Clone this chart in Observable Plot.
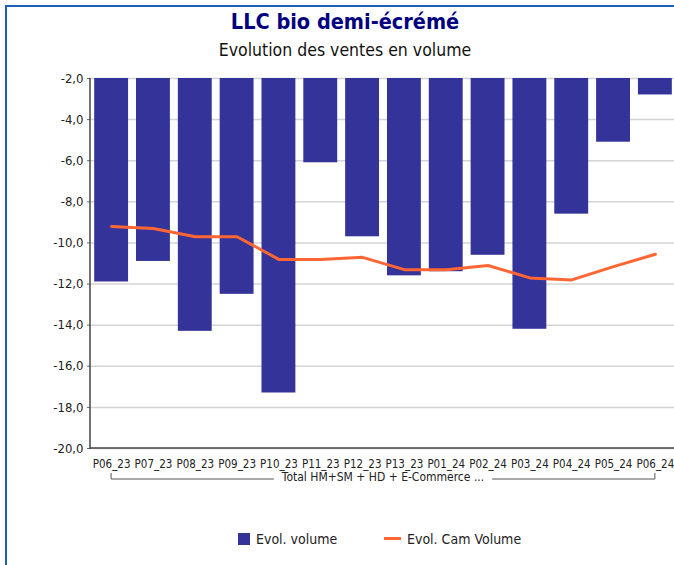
<!DOCTYPE html>
<html>
<head>
<meta charset="utf-8">
<script src="https://cdn.jsdelivr.net/npm/d3@7"></script>
<script src="https://cdn.jsdelivr.net/npm/@observablehq/plot@0.6"></script>
<style>
  html, body { margin: 0; padding: 0; background: #fff; }
  body { width: 674px; height: 565px; position: relative; overflow: hidden; font-family: "DejaVu Sans Condensed", "DejaVu Sans", sans-serif; }
  #frame { position: absolute; left: 5px; top: 5px; width: 700px; height: 600px; border-left: 2px solid #1f5fb4; border-top: 2px solid #1f5fb4; }
  #title { position: absolute; left: 0; width: 690px; top: 9px; text-align: center; font-size: 21.5px; font-weight: bold; color: #000080; }
  #subtitle { position: absolute; left: 0; width: 690px; top: 40px; text-align: center; font-size: 17.5px; color: #111; }
  #chart { position: absolute; left: 0; top: 60px; }
  #legend { position: absolute; top: 531px; left: 0; width: 674px; font-size: 14px; color: #222; }
  .li { position: absolute; top: 0; white-space: nowrap; }
  .sw { display: inline-block; width: 12px; height: 12px; background: #333399; vertical-align: -1px; margin-right: 6px; }
  .ln { display: inline-block; width: 17px; height: 3px; background: #ff6633; vertical-align: 4px; margin-right: 6px; }
</style>
</head>
<body>
<div id="frame"></div>
<div id="title">LLC bio demi-écrémé</div>
<div id="subtitle">Evolution des ventes en volume</div>
<div id="chart"></div>
<div id="legend">
  <span class="li" style="left:238px"><span class="sw"></span>Evol. volume</span>
  <span class="li" style="left:384px"><span class="ln"></span>Evol. Cam Volume</span>
</div>
<script>
const periods = ["P06_23","P07_23","P08_23","P09_23","P10_23","P11_23","P12_23","P13_23","P01_24","P02_24","P03_24","P04_24","P05_24","P06_24"];
const evolVolume = [-11.9, -10.9, -14.3, -12.5, -17.3, -6.1, -9.7, -11.6, -11.4, -10.6, -14.2, -8.6, -5.1, -2.8];
const evolCamVolume = [-9.2, -9.3, -9.7, -9.7, -10.8, -10.8, -10.7, -11.3, -11.3, -11.1, -11.7, -11.8, -11.15, -10.55];
const yTicks = [-20, -18, -16, -14, -12, -10, -8, -6, -4, -2];
const groupLabel = "Total HM+SM + HD + E-Commerce ...";

const data = periods.map((p, i) => ({period: p, vol: evolVolume[i], cam: evolCamVolume[i]}));
const fmt = d => d.toFixed(1).replace(".", ",");

const plot = Plot.plot({
  width: 674,
  height: 430,
  marginTop: 18,
  marginBottom: 42,
  marginLeft: 90,
  marginRight: 0,
  style: {fontFamily: '"DejaVu Sans Condensed", "DejaVu Sans", sans-serif', background: "transparent", overflow: "visible"},
  x: {domain: periods, range: [90, 676], round: false, paddingInner: 0.19, paddingOuter: 0.1},
  y: {domain: [-20, -2]},
  marks: [
    Plot.gridY(yTicks, {stroke: "#d4d4d4", strokeOpacity: 1, strokeWidth: 1.5}),
    Plot.barY(data, {x: "period", y1: () => yTicks[yTicks.length - 1], y2: "vol", fill: "#333399"}),
    Plot.lineY(data, {x: "period", y: "cam", stroke: "#ff6633", strokeWidth: 3}),
    Plot.axisY(yTicks, {tickFormat: fmt, tickSize: 3, tickPadding: 4, fontSize: 13, color: "#222", label: null, stroke: "#666"}),
    Plot.axisX({tickSize: 0, tickPadding: 11, fontSize: 11.5, color: "#222", label: null})
  ]
});
document.getElementById("chart").appendChild(plot);

// axis lines and group bracket
const svg = d3.select(plot);
const xs = plot.scale("x"), ys = plot.scale("y");
const x0 = 90, yb = ys.apply(-20), yt = ys.apply(-2);
svg.append("line").attr("x1", x0).attr("x2", x0).attr("y1", yt).attr("y2", yb + 1).attr("stroke", "#444").attr("stroke-width", 1.5);
svg.append("line").attr("x1", x0).attr("x2", 676).attr("y1", yb).attr("y2", yb).attr("stroke", "#444").attr("stroke-width", 1.5);
const bw = xs.bandwidth;
const gx1 = xs.apply(periods[0]) + bw / 2, gx2 = xs.apply(periods[periods.length - 1]) + bw / 2;
const gy = yb + 31;
const cx = (gx1 + gx2) / 2;
const gText = svg.append("text").attr("x", cx).attr("y", gy + 2).attr("text-anchor", "middle")
  .attr("font-size", 12).attr("fill", "#222").text(groupLabel);
const tw = gText.node().getComputedTextLength();
const g = svg.append("g").attr("stroke", "#555").attr("fill", "none").attr("stroke-width", 1);
g.append("path").attr("d", `M${gx1},${gy - 6}V${gy}H${cx - tw / 2 - 8}`);
g.append("path").attr("d", `M${cx + tw / 2 + 8},${gy}H${gx2}V${gy - 6}`);
</script>
</body>
</html>
